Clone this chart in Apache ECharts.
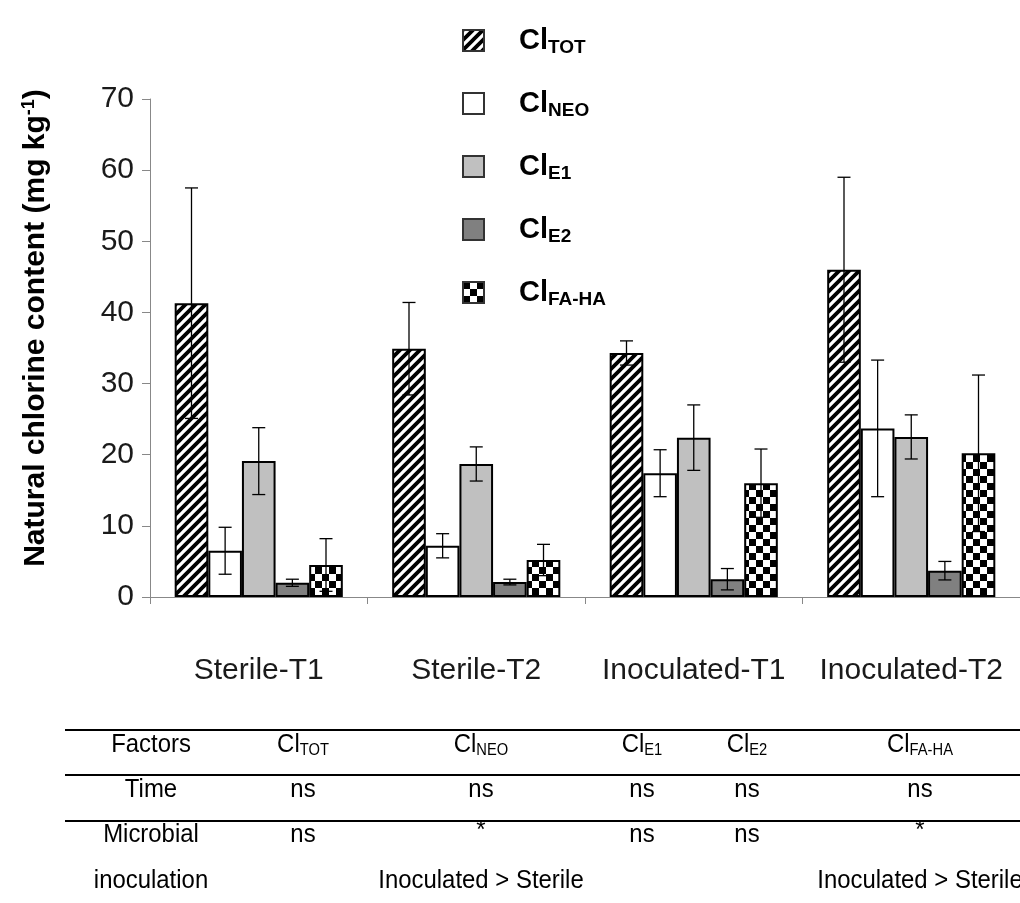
<!DOCTYPE html>
<html>
<head>
<meta charset="utf-8">
<script src="https://cdn.jsdelivr.net/npm/echarts@6/dist/echarts.min.js"></script>
<style>
  html, body { margin: 0; padding: 0; background: #fff; }
  #chart { width: 1020px; height: 903px; }
</style>
</head>
<body>
<div id="chart"></div>
<script>
// data (mean and SD per treatment)
const categories = ["Sterile-T1", "Sterile-T2", "Inoculated-T1", "Inoculated-T2"];
const seriesKeys = ["TOT", "NEO", "E1", "E2", "FA-HA"];
const totMean = [41.3, 34.9, 34.3, 46.0];
const totSd = [16.2, 6.5, 1.7, 13.0];
const neoMean = [6.5, 7.2, 17.4, 23.7];
const neoSd = [3.3, 1.7, 3.3, 9.6];
const e1Mean = [19.1, 18.7, 22.4, 22.5];
const e1Sd = [4.7, 2.4, 4.6, 3.1];
const e2Mean = [2.0, 2.1, 2.5, 3.7];
const e2Sd = [0.5, 0.4, 1.5, 1.3];
const fahaMean = [4.5, 5.2, 16.0, 20.2];
const fahaSd = [3.7, 2.2, 4.8, 11.0];

// statistics table under the chart
const tableHeader = ["Factors", "TOT", "NEO", "E1", "E2", "FA-HA"];
const rowTime = ["Time", "ns", "ns", "ns", "ns", "ns"];
const rowInoc = ["Microbial", "ns", "*", "ns", "ns", "*"];
const rowInoc2 = ["inoculation", "", "Inoculated > Sterile", "", "", "Inoculated > Sterile"];

const means = [totMean, neoMean, e1Mean, e2Mean, fahaMean];
const sds = [totSd, neoSd, e1Sd, e2Sd, fahaSd];

function hatch() {
  var c = document.createElement("canvas");
  c.width = 10; c.height = 10;
  var g = c.getContext("2d");
  g.fillStyle = "#fff"; g.fillRect(0, 0, 10, 10);
  g.strokeStyle = "#000"; g.lineWidth = 3.8;
  g.beginPath();
  g.moveTo(-5, 5); g.lineTo(5, -5);
  g.moveTo(0, 10); g.lineTo(10, 0);
  g.moveTo(5, 15); g.lineTo(15, 5);
  g.stroke();
  return c;
}
function checker() {
  var c = document.createElement("canvas");
  c.width = 14; c.height = 14;
  var g = c.getContext("2d");
  g.fillStyle = "#fff"; g.fillRect(0, 0, 14, 14);
  g.fillStyle = "#000";
  g.fillRect(0, 0, 7, 7); g.fillRect(7, 7, 7, 7);
  return c;
}

const fills = [
  { image: hatch(), repeat: "repeat" },
  "#ffffff",
  "#c0c0c0",
  "#808080",
  { image: checker(), repeat: "repeat" }
];

const FONT = "'Liberation Sans', Arial, sans-serif";
const GAP = 0.227;

var series = [];
seriesKeys.forEach(function (k, i) {
  series.push({
    name: "Cl" + k,
    type: "bar",
    barGap: "0%",
    barCategoryGap: GAP * 100 + "%",
    data: means[i],
    itemStyle: { color: fills[i], borderColor: "#000", borderWidth: 2 },
    emphasis: { disabled: true }
  });
});
seriesKeys.forEach(function (k, i) {
  series.push({
    type: "custom",
    z: 10,
    silent: true,
    data: categories.map(function (c, j) {
      return [j, means[i][j] - sds[i][j], means[i][j] + sds[i][j]];
    }),
    encode: { x: 0, y: [1, 2] },
    renderItem: function (params, api) {
      var catW = api.size([1, 0])[0];
      var barW = catW * (1 - GAP) / seriesKeys.length;
      var off = (i - (seriesKeys.length - 1) / 2) * barW;
      var lo = api.coord([api.value(0), api.value(1)]);
      var hi = api.coord([api.value(0), api.value(2)]);
      var x = lo[0] + off, hw = 6.5;
      var st = { stroke: "#000", lineWidth: 1.3 };
      return {
        type: "group",
        children: [
          { type: "line", shape: { x1: x, y1: lo[1], x2: x, y2: hi[1] }, style: st },
          { type: "line", shape: { x1: x - hw, y1: hi[1], x2: x + hw, y2: hi[1] }, style: st },
          { type: "line", shape: { x1: x - hw, y1: lo[1], x2: x + hw, y2: lo[1] }, style: st }
        ]
      };
    }
  });
});

// table drawn with graphic elements
const colX = [151, 303, 481, 642, 747, 920];
const tableRich = {
  m: { fontSize: 26, fontFamily: FONT, fill: "#000" },
  s: { fontSize: 16, fontFamily: FONT, fill: "#000", padding: [11, 0, 0, 0] }
};
function cell(text, x, y) {
  return {
    type: "text", x: x, y: y, scaleX: 0.92,
    style: {
      text: text, fontSize: 26, fontFamily: FONT, fill: "#000",
      align: "center", verticalAlign: "middle", rich: tableRich
    }
  };
}
function hline(y) {
  return { type: "line", shape: { x1: 65, y1: y, x2: 1020, y2: y }, style: { stroke: "#000", lineWidth: 2 } };
}
var graphics = [hline(730), hline(775), hline(821)];
tableHeader.forEach(function (t, i) {
  graphics.push(cell(i === 0 ? t : "{m|Cl}{s|" + t + "}", colX[i], 745));
});
rowTime.forEach(function (t, i) { if (t) graphics.push(cell(t, colX[i], 790)); });
rowInoc.forEach(function (t, i) { if (t) graphics.push(cell(t, colX[i], t === "*" ? 831 : 835)); });
rowInoc2.forEach(function (t, i) { if (t) graphics.push(cell(t, colX[i], 881)); });

var chart = echarts.init(document.getElementById("chart"));
var option = {
  animation: false,
  backgroundColor: "#fff",
  textStyle: { fontFamily: FONT },
  grid: { left: 150, top: 99, width: 880, height: 498 },
  legend: {
    orient: "vertical",
    left: 457,
    top: 21,
    icon: "rect",
    itemWidth: 21,
    itemHeight: 21,
    itemGap: 32,
    selectedMode: false,
    data: seriesKeys.map(function (k) { return "Cl" + k; }),
    itemStyle: { borderColor: "#333", borderWidth: 2 },
    formatter: function (n) { return "{g|}{m|Cl}{s|" + n.slice(2) + "}"; },
    textStyle: {
      rich: {
        g: { width: 30 },
        m: { fontSize: 29, fontWeight: "bold", color: "#000", fontFamily: FONT },
        s: { fontSize: 19, fontWeight: "bold", color: "#000", fontFamily: FONT, padding: [14, 0, 0, 0] }
      }
    }
  },
  xAxis: {
    type: "category",
    data: categories,
    axisLine: { lineStyle: { color: "#888", width: 1 } },
    axisTick: { show: true, length: 7, lineStyle: { color: "#888" } },
    axisLabel: { fontSize: 30, color: "#1a1a1a", margin: 59, interval: 0 }
  },
  yAxis: {
    type: "value",
    min: 0, max: 70, interval: 10,
    name: "Natural chlorine content (mg kg{sup|-1})",
    nameLocation: "middle",
    nameGap: 99,
    nameTextStyle: {
      fontSize: 30, fontWeight: "bold", color: "#000", padding: [0, 0, 0, 40],
      rich: { sup: { fontSize: 18, fontWeight: "bold", color: "#000", padding: [0, 0, 13, 0] } }
    },
    splitLine: { show: false },
    axisLine: { show: true, lineStyle: { color: "#888", width: 1 } },
    axisTick: { show: true, length: 8, lineStyle: { color: "#888" } },
    axisLabel: { fontSize: 30, color: "#1a1a1a", margin: 16 }
  },
  graphic: graphics,
  series: series
};
chart.setOption(option);
</script>
</body>
</html>
